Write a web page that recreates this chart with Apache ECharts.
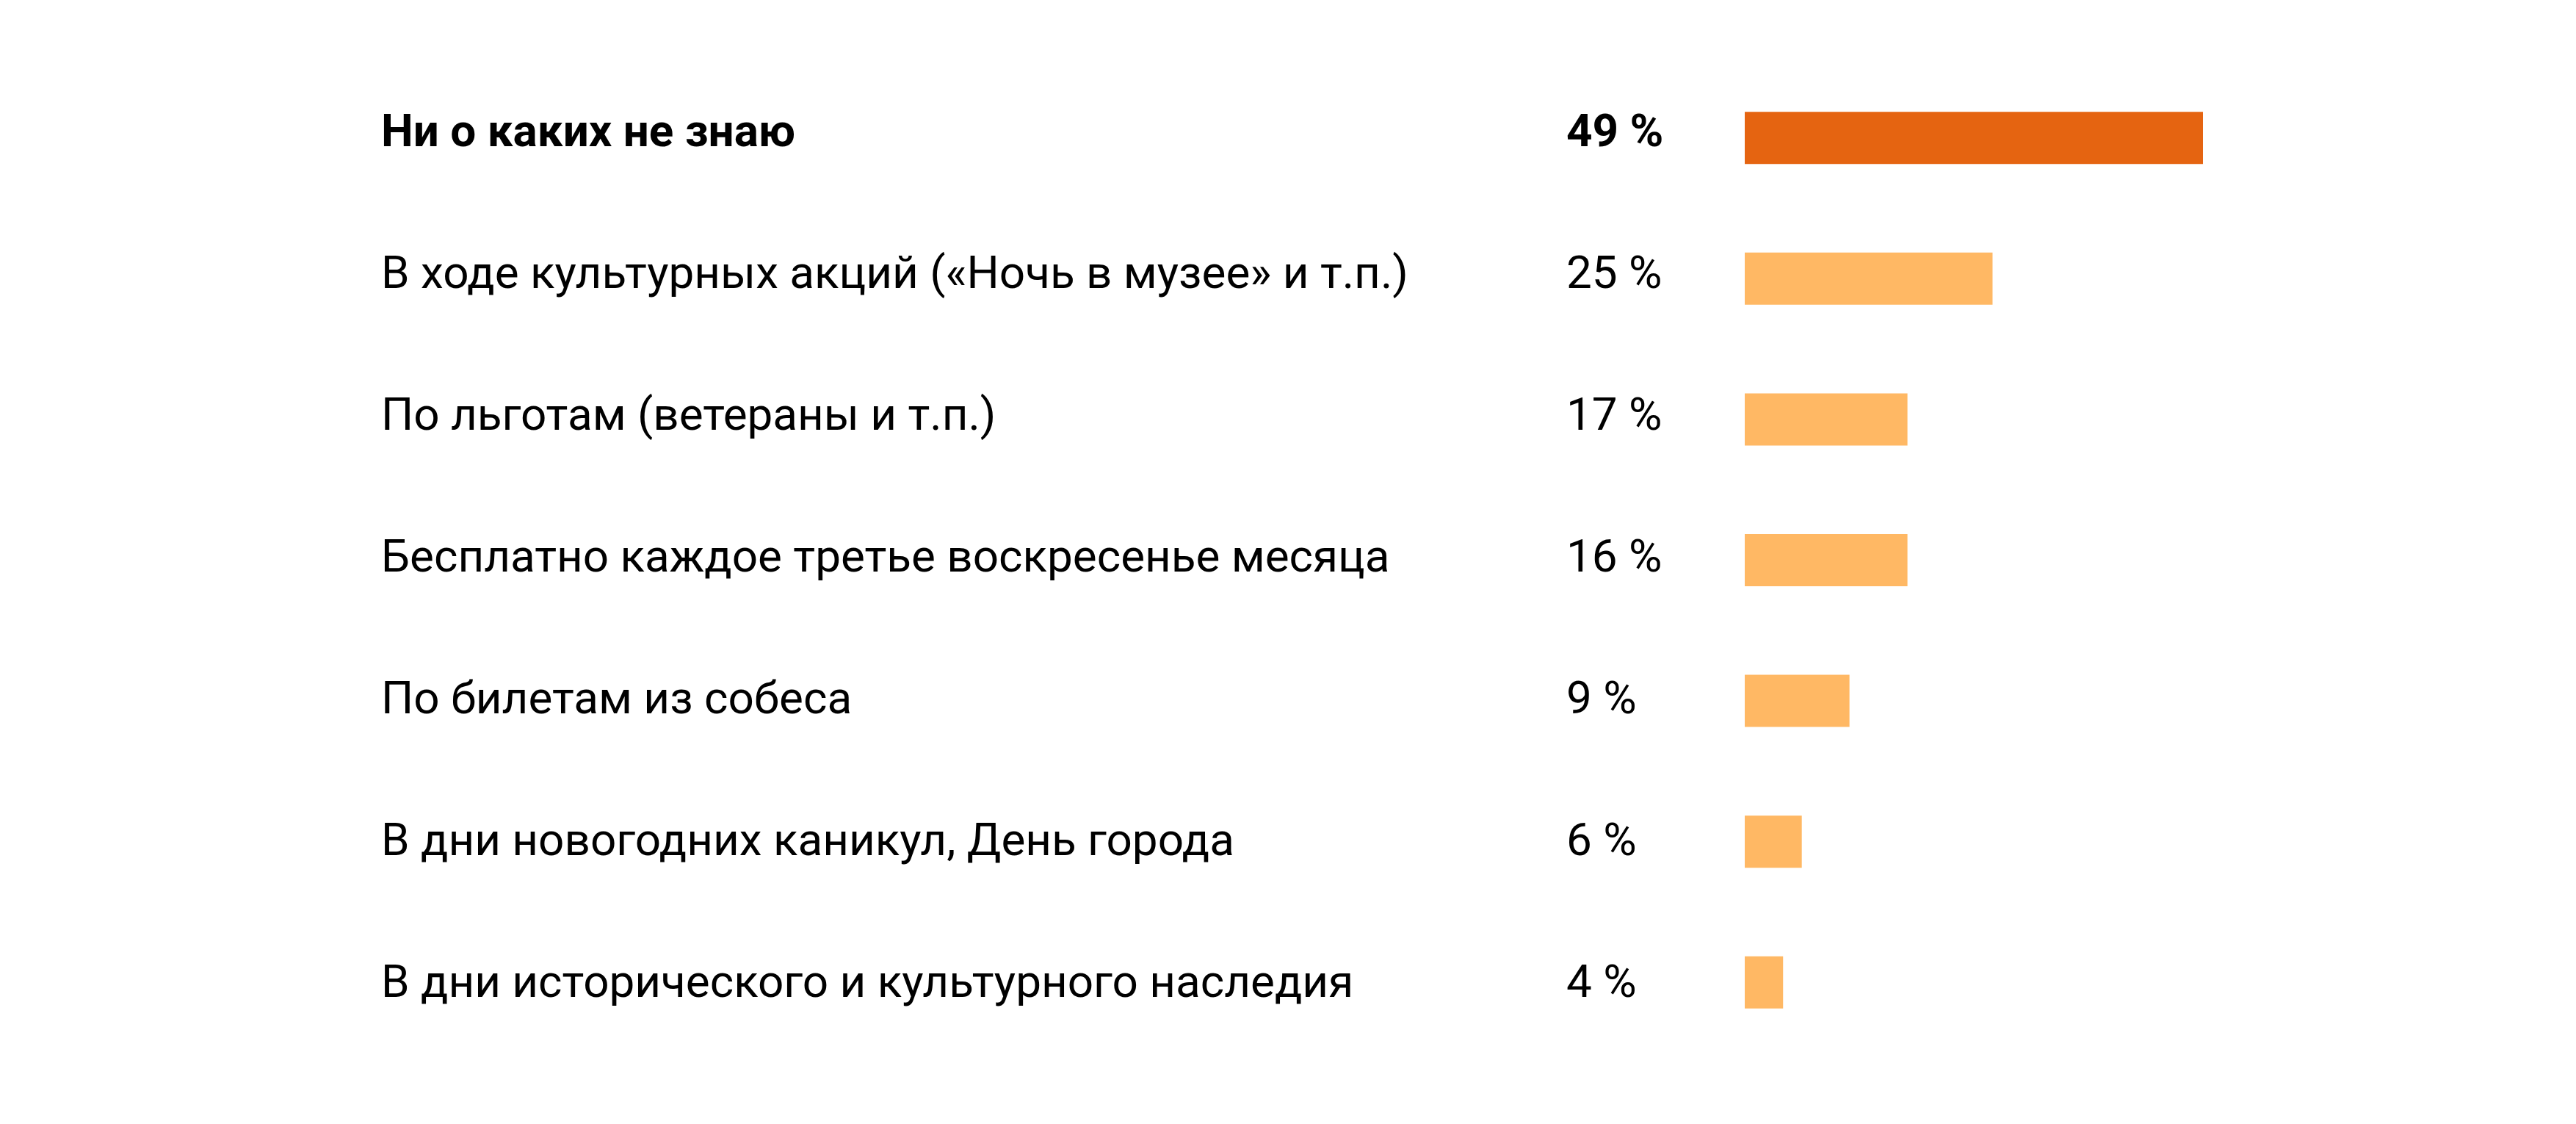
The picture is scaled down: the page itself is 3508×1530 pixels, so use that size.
<!DOCTYPE html>
<html>
<head>
<meta charset="utf-8">
<script src="https://cdn.jsdelivr.net/npm/echarts@6/dist/echarts.min.js"></script>
<style>
  html, body { margin: 0; padding: 0; background: #fff; }
  #chart { width: 3508px; height: 1530px; }
</style>
</head>
<body>
<div id="chart"></div>
<script>
// categories, top to bottom
const categories = [
  'Ни о каких не знаю',
  'В ходе культурных акций («Ночь в музее» и т.п.)',
  'По льготам (ветераны и т.п.)',
  'Бесплатно каждое третье воскресенье месяца',
  'По билетам из собеса',
  'В дни новогодних каникул, День города',
  'В дни исторического и культурного наследия'
];
// printed percentages
const printedValues = [49, 25, 17, 16, 9, 6, 4];
// bar lengths as drawn in the picture (in %)
const barValues = [49, 26.5, 17.4, 17.4, 11.2, 6.1, 4.1];

const percentLabels = printedValues.map(v => v + ' %');

const chart = echarts.init(document.getElementById('chart'));

const FONT = 'Roboto';
const richText = {
  b: { fontFamily: FONT, fontSize: 62, fontWeight: 700, color: '#000' },
  n: { fontFamily: FONT, fontSize: 62, fontWeight: 400, color: '#000' }
};
const fmt = (value, index) => (index === 0 ? '{b|' + value + '}' : '{n|' + value + '}');

const option = {
  animation: false,
  backgroundColor: '#fff',
  // grid 0 - bars, grid 1 - text rows (text spacing is a bit wider than bars)
  grid: [
    { left: 2376, right: 508, top: 92, bottom: 97 },
    { left: 2376, right: 508, top: 91, bottom: 87.5 }
  ],
  xAxis: [
    { type: 'value', gridIndex: 0, min: 0, max: 49, show: false },
    { type: 'value', gridIndex: 1, min: 0, max: 49, show: false }
  ],
  yAxis: [
    {
      type: 'category',
      gridIndex: 0,
      inverse: true,
      data: categories,
      show: false
    },
    {
      type: 'category',
      gridIndex: 1,
      inverse: true,
      data: categories,
      axisLine: { show: false },
      axisTick: { show: false },
      axisLabel: {
        align: 'left',
        margin: 2376 - 519,
        padding: [0, 0, 8, 0],
        formatter: fmt,
        rich: richText
      }
    },
    {
      type: 'category',
      gridIndex: 1,
      inverse: true,
      position: 'left',
      data: percentLabels,
      axisLine: { show: false },
      axisTick: { show: false },
      axisLabel: {
        align: 'left',
        margin: 2376 - 2133,
        padding: [0, 0, 8, 0],
        formatter: fmt,
        rich: richText
      }
    }
  ],
  series: [
    {
      type: 'bar',
      xAxisIndex: 0,
      yAxisIndex: 0,
      barWidth: 71,
      data: barValues.map((v, i) => ({
        value: v,
        itemStyle: { color: i === 0 ? '#E56411' : '#FFB864' }
      }))
    }
  ]
};

chart.setOption(option);

window.addEventListener('resize', () => {
  chart.resize();
});
</script>
</body>
</html>
